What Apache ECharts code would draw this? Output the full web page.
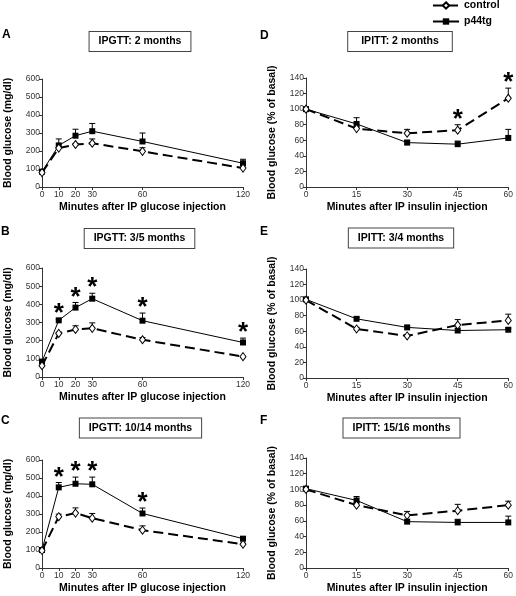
<!DOCTYPE html>
<html>
<head>
<meta charset="utf-8">
<script src="https://cdn.jsdelivr.net/npm/echarts@6/dist/echarts.min.js"></script>
<style>
html,body{margin:0;padding:0;background:#fff;}
#chart{width:516px;height:596px;}
</style>
</head>
<body>
<div id="chart"></div>
<script>
// ---------- data ----------
const glucoseTimes = [0, 10, 20, 30, 60, 120];
const insulinTimes = [0, 15, 30, 45, 60];
const glucoseTicks = [0, 10, 20, 30, 60, 120];
const insulinTicks = [0, 15, 30, 45, 60];

const seriesNames = ['control', 'p44tg'];

const panelLetters = ['A', 'B', 'C', 'D', 'E', 'F'];
const panelTitles = ['IPGTT: 2 months', 'IPGTT: 3/5 months', 'IPGTT: 10/14 months',
                     'IPITT: 2 months', 'IPITT: 3/4 months', 'IPITT: 15/16 months'];
const xAxisNames = ['Minutes after IP glucose injection', 'Minutes after IP insulin injection'];
const yAxisNames = ['Blood glucose (mg/dl)', 'Blood glucose (% of basal)'];

// Panel A
const ctrlA = [80, 216, 236, 243, 198, 105];
const ctrlAErr = [0, 5, 6, 24, 20, 0];
const p44A = [85, 231, 285, 310, 253, 132];
const p44AErr = [5, 36, 36, 43, 47, 22];
// Panel B
const ctrlB = [62, 240, 262, 268, 205, 112];
const ctrlBErr = [0, 6, 20, 30, 12, 0];
const p44B = [85, 312, 382, 431, 310, 190];
const p44BErr = [5, 6, 28, 30, 42, 24];
const sigB = [0, 1, 1, 1, 1, 1];
// Panel C
const ctrlC = [97, 285, 305, 277, 210, 132];
const ctrlCErr = [0, 14, 29, 26, 24, 5];
const p44C = [100, 448, 468, 465, 303, 163];
const p44CErr = [0, 27, 37, 40, 30, 5];
const sigC = [0, 1, 1, 1, 1, 0];
// Panel D
const ctrlD = [100, 75, 69, 73, 114];
const ctrlDErr = [0, 2, 5, 7, 13];
const sigD = [0, 0, 0, 1, 1];
const p44D = [100, 81, 57, 55, 63];
const p44DErr = [0, 8, 3, 4, 11];
// Panel E
const ctrlE = [100, 63, 54, 68, 74];
const ctrlEErr = [0, 2, 2, 7, 8];
const p44E = [101, 76, 65, 61, 62];
const p44EErr = [0, 2, 2, 0, 2];
// Panel F
const ctrlF = [100, 80, 67, 73, 80];
const ctrlFErr = [0, 3, 5, 8, 5];
const p44F = [101, 86, 59, 58, 58];
const p44FErr = [0, 5, 2, 4, 8];

const zeros6 = [0, 0, 0, 0, 0, 0];
const zeros5 = [0, 0, 0, 0, 0];

// ---------- layout ----------
const FONT = 'Arial, "Liberation Sans", sans-serif';
const panels = [
  { kind: 0, ctrl: ctrlA, ctrlErr: ctrlAErr, ctrlSig: zeros6, p44: p44A, p44Err: p44AErr, p44Sig: zeros6,
    grid: { left: 42, top: 79, width: 201, height: 108 }, box: [140, 41.5, 9], letter: [2, 35] },
  { kind: 0, ctrl: ctrlB, ctrlErr: ctrlBErr, ctrlSig: zeros6, p44: p44B, p44Err: p44BErr, p44Sig: sigB,
    grid: { left: 42, top: 268, width: 201, height: 109 }, box: [139.5, 238.5, 9], letter: [1, 231.5] },
  { kind: 0, ctrl: ctrlC, ctrlErr: ctrlCErr, ctrlSig: zeros6, p44: p44C, p44Err: p44CErr, p44Sig: sigC,
    grid: { left: 42, top: 460, width: 201, height: 108 }, box: [140.5, 428, 9], letter: [1, 421] },
  { kind: 1, ctrl: ctrlD, ctrlErr: ctrlDErr, ctrlSig: sigD, p44: p44D, p44Err: p44DErr, p44Sig: zeros5,
    grid: { left: 306, top: 78, width: 205, height: 109 }, box: [400, 41.5, 13], letter: [260, 35.5] },
  { kind: 1, ctrl: ctrlE, ctrlErr: ctrlEErr, ctrlSig: zeros5, p44: p44E, p44Err: p44EErr, p44Sig: zeros5,
    grid: { left: 306, top: 269, width: 205, height: 109 }, box: [401, 238, 9], letter: [260, 231.5] },
  { kind: 1, ctrl: ctrlF, ctrlErr: ctrlFErr, ctrlSig: zeros5, p44: p44F, p44Err: p44FErr, p44Sig: zeros5,
    grid: { left: 306, top: 458, width: 205, height: 110 }, box: [401.5, 428, 9], letter: [260, 421] }
];

const axisColor = '#333';
const grids = [], xAxes = [], yAxes = [], series = [], graphics = [];

function errRender(params, api) {
  const x = api.value(0), y = api.value(1), e = api.value(2), sig = api.value(3);
  const children = [];
  const p0 = api.coord([x, y]);
  const p1 = api.coord([x, y + e]);
  if (e > 0) {
    children.push({ type: 'line', shape: { x1: p0[0], y1: p0[1], x2: p1[0], y2: p1[1] },
      style: { stroke: '#000', lineWidth: 1 } });
    children.push({ type: 'line', shape: { x1: p1[0] - 3, y1: p1[1], x2: p1[0] + 3, y2: p1[1] },
      style: { stroke: '#000', lineWidth: 1 } });
  }
  if (sig) {
    children.push({ type: 'text', x: p1[0], y: p1[1] - 5,
      style: { text: '*', font: 'bold 26px ' + FONT, fill: '#000', align: 'center', verticalAlign: 'middle' } });
  }
  return { type: 'group', children: children };
}

panels.forEach((p, i) => {
  const times = p.kind === 0 ? glucoseTimes : insulinTimes;
  const ticks = p.kind === 0 ? glucoseTicks : insulinTicks;
  grids.push(p.grid);
  xAxes.push({
    type: 'value', gridIndex: i, min: 0, max: p.kind === 0 ? 120 : 60,
    interval: p.kind === 0 ? 10 : 15,
    name: xAxisNames[p.kind], nameLocation: 'middle', nameGap: 15,
    nameTextStyle: { fontFamily: FONT, fontWeight: 'bold', fontSize: 10.5, color: '#000' },
    axisLine: { onZero: false, lineStyle: { color: axisColor, width: 1 } },
    axisTick: { show: true, length: 3, customValues: ticks, lineStyle: { color: axisColor } },
    axisLabel: { customValues: ticks, fontFamily: FONT, fontSize: 8.5, color: '#333', margin: 3 },
    splitLine: { show: false }
  });
  yAxes.push({
    type: 'value', gridIndex: i, min: 0, max: p.kind === 0 ? 600 : 140,
    interval: p.kind === 0 ? 100 : 20,
    name: yAxisNames[p.kind], nameLocation: 'middle', nameGap: 28, nameRotate: 90,
    nameTextStyle: { fontFamily: FONT, fontWeight: 'bold', fontSize: 10.5, color: '#000' },
    axisLine: { show: true, lineStyle: { color: axisColor, width: 1 } },
    axisTick: { show: true, length: 3, lineStyle: { color: axisColor } },
    axisLabel: { fontFamily: FONT, fontSize: 8.5, color: '#333', margin: 2 },
    splitLine: { show: false }
  });
  // error bars (drawn beneath markers)
  series.push({
    type: 'custom', xAxisIndex: i, yAxisIndex: i, z: 1, silent: true,
    data: times.map((t, k) => [t, p.ctrl[k], p.ctrlErr[k], p.ctrlSig[k]]),
    renderItem: errRender
  });
  series.push({
    type: 'custom', xAxisIndex: i, yAxisIndex: i, z: 1, silent: true,
    data: times.map((t, k) => [t, p.p44[k], p.p44Err[k], p.p44Sig[k]]),
    renderItem: errRender
  });
  series.push({
    name: seriesNames[1], type: 'line', xAxisIndex: i, yAxisIndex: i, z: 2,
    data: times.map((t, k) => [t, p.p44[k]]),
    symbol: 'rect', symbolSize: 6,
    itemStyle: { color: '#000' },
    lineStyle: { color: '#000', width: 1 }
  });
  series.push({
    name: seriesNames[0], type: 'line', xAxisIndex: i, yAxisIndex: i, z: 3,
    data: times.map((t, k) => [t, p.ctrl[k]]),
    symbol: 'diamond', symbolSize: [6, 8], showAllSymbol: true,
    itemStyle: { color: '#fff', borderColor: '#000', borderWidth: 1 },
    lineStyle: { color: '#000', width: 2, type: [10, 5] }
  });
  graphics.push({
    type: 'text', x: p.box[0], y: p.box[1],
    style: { text: panelTitles[i], font: 'bold 10.5px ' + FONT, fill: '#000',
      align: 'center', verticalAlign: 'middle', backgroundColor: '#fff',
      borderColor: '#444', borderWidth: 1, padding: [4, p.box[2], 4, p.box[2]] }
  });
  graphics.push({
    type: 'text', x: p.letter[0], y: p.letter[1],
    style: { text: panelLetters[i], font: 'bold 12px ' + FONT, fill: '#000',
      align: 'left', verticalAlign: 'middle' }
  });
});

const chart = echarts.init(document.getElementById('chart'), null, { renderer: 'canvas' });
chart.setOption({
  animation: false,
  backgroundColor: '#fff',
  legend: {
    data: [seriesNames[0], seriesNames[1]],
    orient: 'vertical', left: 432, top: 0, padding: 0,
    itemWidth: 26, itemHeight: 8, itemGap: 5,
    textStyle: { fontFamily: FONT, fontWeight: 'bold', fontSize: 10.5, color: '#000' }
  },
  grid: grids,
  xAxis: xAxes,
  yAxis: yAxes,
  series: series,
  graphic: graphics
});
</script>
</body>
</html>
